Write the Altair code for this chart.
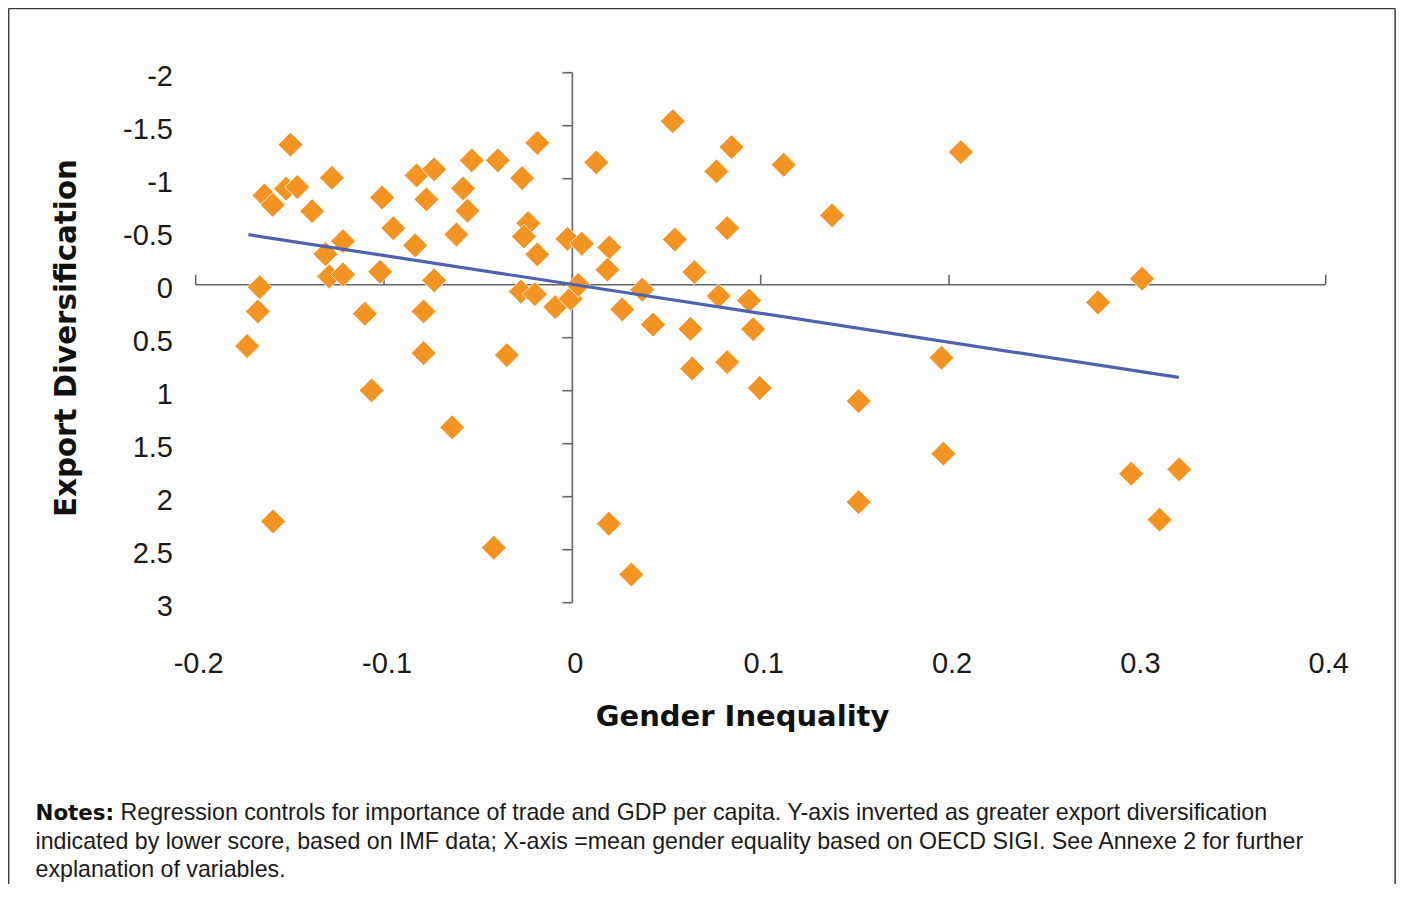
import altair as alt
import pandas as pd

# ---------------- data ----------------
gender_inequality = [
    -0.1497, -0.1635, -0.1591, -0.1520, -0.1461, -0.1277, -0.1382, -0.1311, -0.1218, -0.1291,
    -0.1218, -0.1660, -0.1670, -0.1727, -0.1589, -0.1010, -0.1021, -0.0951, -0.0835, -0.0827,
    -0.0775, -0.0734, -0.0734, -0.1102, -0.1066, -0.0790, -0.0790, -0.0638, -0.0616, -0.0580,
    -0.0557, -0.0534, -0.0396, -0.0267, -0.0186, -0.0234, -0.0257, -0.0186, -0.0348, -0.0417,
    -0.0273, -0.0199, -0.0091, -0.0009, 0.0031, -0.0026, 0.0050, 0.0127, 0.0196, 0.0186,
    0.0194, 0.0313, 0.0265, 0.0371, 0.0428, 0.0533, 0.0544, 0.0648, 0.0627, 0.0636,
    0.0765, 0.0845, 0.0822, 0.0777, 0.0822, 0.0938, 0.0960, 0.0995, 0.1122, 0.1379,
    0.1520, 0.1520, 0.1960, 0.1970, 0.2063, 0.2791, 0.3025, 0.2967, 0.3222, 0.3118,
]
export_diversification = [
    -1.321, -0.842, -0.753, -0.906, -0.921, -1.008, -0.694, -0.289, -0.411, -0.078,
    -0.097, 0.023, 0.252, 0.579, 2.233, -0.822, -0.121, -0.533, -0.371, -1.031,
    -0.805, -1.088, -0.041, 0.274, 0.997, 0.252, 0.645, 1.346, -0.473, -0.908,
    -0.698, -1.173, -1.173, -1.006, -1.338, -0.580, -0.454, -0.286, 0.664, 2.481,
    0.065, 0.089, 0.211, 0.132, 0.002, -0.432, -0.387, -1.154, -0.352, -0.142,
    2.255, 2.733, 0.233, 0.047, 0.376, -1.543, -0.427, -0.119, 0.417, 0.792,
    -1.069, -1.298, -0.534, 0.106, 0.730, 0.148, 0.419, 0.975, -1.132, -0.654,
    1.098, 2.051, 0.689, 1.594, -1.251, 0.167, -0.057, 1.783, 1.742, 2.217,
]

# regression line end points
line_x = [-0.172, 0.322]
line_y = [-0.472, 0.875]

x_ticks = [-0.2, -0.1, 0, 0.1, 0.2, 0.3, 0.4]
x_tick_labels = ["-0.2", "-0.1", "0", "0.1", "0.2", "0.3", "0.4"]
y_ticks = [-2, -1.5, -1, -0.5, 0, 0.5, 1, 1.5, 2, 2.5, 3]
y_tick_labels = ["-2", "-1.5", "-1", "-0.5", "0", "0.5", "1", "1.5", "2", "2.5", "3"]

x_title = "Gender Inequality"
y_title = "Export Diversification"
notes_label = "Notes:"
notes_lines = [
    "Regression controls for importance of trade and GDP per capita. Y-axis inverted as greater export diversification",
    "indicated by lower score, based on IMF data; X-axis =mean gender equality based on OECD SIGI. See Annexe 2 for further",
    "explanation of variables.",
]

# ---------------- styling ----------------
FONT = "Liberation Sans"
BOLD_FONT = "DejaVu Sans"
ORANGE = "#f39322"
BLUE = "#4f62ad"
AXIS_GREY = "#666666"
FRAME = "#3a3a3a"
TXT = "#1a1a1a"

W, H = 1130, 530
PAD_L, PAD_T = 187.7, 64.7
OX, OY = 8 + PAD_L, 8 + PAD_T          # page position of the plot origin
CANVAS_W, CANVAS_H = 1388, 876


def px(x):   # page x -> plot-group x
    return x - OX


def py(y):   # page y -> plot-group y
    return y - OY


xs = alt.Scale(domain=[-0.2, 0.4], nice=False, zero=False)
ys = alt.Scale(domain=[-2, 3], reverse=True, nice=False, zero=False)

pts = pd.DataFrame({"gi": gender_inequality, "ed": export_diversification})
reg = pd.DataFrame({"gi": line_x, "ed": line_y})
one = pd.DataFrame({"k": [0]})

xline = pd.DataFrame({"x0": [x_ticks[0]], "x1": [x_ticks[-1]], "y0": [0]})
yline = pd.DataFrame({"y0": [y_ticks[0]], "y1": [y_ticks[-1]], "x0": [0]})
xtk = pd.DataFrame({"xt": x_ticks, "y0": [0] * len(x_ticks), "lab": x_tick_labels})
ytk = pd.DataFrame({"yt": y_ticks, "x0": [0] * len(y_ticks), "lab": y_tick_labels})

# crossing axis lines and their ticks
axis_x_line = alt.Chart(xline).mark_rule(color=AXIS_GREY, strokeWidth=1.6).encode(
    x=alt.X("x0:Q", scale=xs, axis=None), x2="x1:Q",
    y=alt.Y("y0:Q", scale=ys, axis=None),
)
axis_y_line = alt.Chart(yline).mark_rule(color=AXIS_GREY, strokeWidth=1.6).encode(
    y=alt.Y("y0:Q", scale=ys, axis=None), y2="y1:Q",
    x=alt.X("x0:Q", scale=xs, axis=None),
)
x_tick_marks = alt.Chart(xtk).mark_rule(color=AXIS_GREY, strokeWidth=1.6, y2Offset=-10).encode(
    x=alt.X("xt:Q", scale=xs, axis=None),
    y=alt.Y("y0:Q", scale=ys, axis=None), y2="y0:Q",
)
y_tick_marks = alt.Chart(ytk).mark_rule(color=AXIS_GREY, strokeWidth=1.6, x2Offset=-10).encode(
    y=alt.Y("yt:Q", scale=ys, axis=None),
    x=alt.X("x0:Q", scale=xs, axis=None), x2="x0:Q",
)

# tick labels (placed along the outer edges, as in the reference)
x_labels = alt.Chart(xtk).mark_text(
    font=FONT, fontSize=29, align="center", baseline="alphabetic", dx=3, color=TXT
).encode(
    x=alt.X("xt:Q", scale=xs, axis=None), y=alt.value(py(672.5)), text="lab:N"
)
y_labels = alt.Chart(ytk).mark_text(
    font=FONT, fontSize=29, align="right", baseline="alphabetic", dy=13.5, color=TXT
).encode(
    y=alt.Y("yt:Q", scale=ys, axis=None), x=alt.value(px(173)), text="lab:N"
)

x_title_mark = alt.Chart(one).mark_text(
    font=BOLD_FONT, fontWeight="bold", fontSize=29, align="center", baseline="alphabetic", color="#111111"
).encode(x=alt.value(px(742.5)), y=alt.value(py(726)), text=alt.value(x_title))
y_title_mark = alt.Chart(one).mark_text(
    font=BOLD_FONT, fontWeight="bold", fontSize=29.3, align="center", baseline="alphabetic",
    angle=270, color="#111111"
).encode(x=alt.value(px(76)), y=alt.value(py(338)), text=alt.value(y_title))

points = alt.Chart(pts).mark_point(
    shape="diamond", filled=True, size=620, color=ORANGE, opacity=1,
    stroke="white", strokeWidth=0.8,
).encode(
    x=alt.X("gi:Q", scale=xs, axis=None),
    y=alt.Y("ed:Q", scale=ys, axis=None),
)

reg_line = alt.Chart(reg).mark_line(color=BLUE, strokeWidth=3.2).encode(
    x=alt.X("gi:Q", scale=xs, axis=None),
    y=alt.Y("ed:Q", scale=ys, axis=None),
)

# frame (left, top, right edges)
FR_L, FR_R, FR_T = px(8.6), px(8 + CANVAS_W - 0.9), py(8.6)
frame_left = alt.Chart(one).mark_rule(color=FRAME, strokeWidth=1.5).encode(
    x=alt.value(FR_L), y=alt.value(FR_T), y2=alt.value(py(900)))
frame_right = alt.Chart(one).mark_rule(color=FRAME, strokeWidth=1.5).encode(
    x=alt.value(FR_R), y=alt.value(FR_T), y2=alt.value(py(900)))
frame_top = alt.Chart(one).mark_rule(color=FRAME, strokeWidth=1.5).encode(
    x=alt.value(FR_L), x2=alt.value(FR_R), y=alt.value(FR_T))

NOTE_SIZE = 23.2
note_bold = alt.Chart(one).mark_text(
    align="left", baseline="alphabetic", font=BOLD_FONT, fontSize=21.4, fontWeight="bold", color="#111111"
).encode(x=alt.value(px(35.5)), y=alt.value(py(820)), text=alt.value(notes_label))
note_l1 = alt.Chart(one).mark_text(
    align="left", baseline="alphabetic", font=FONT, fontSize=NOTE_SIZE, color=TXT
).encode(x=alt.value(px(120.5)), y=alt.value(py(820)), text=alt.value(notes_lines[0]))
note_l2 = alt.Chart(one).mark_text(
    align="left", baseline="alphabetic", font=FONT, fontSize=NOTE_SIZE, color=TXT
).encode(x=alt.value(px(35.5)), y=alt.value(py(848.5)), text=alt.value(notes_lines[1]))
note_l3 = alt.Chart(one).mark_text(
    align="left", baseline="alphabetic", font=FONT, fontSize=NOTE_SIZE, color=TXT
).encode(x=alt.value(px(35.5)), y=alt.value(py(877)), text=alt.value(notes_lines[2]))

chart = alt.layer(
    frame_left, frame_right, frame_top,
    axis_x_line, axis_y_line, x_tick_marks, y_tick_marks,
    x_labels, y_labels, x_title_mark, y_title_mark,
    points, reg_line,
    note_bold, note_l1, note_l2, note_l3,
).properties(
    width=W, height=H,
    autosize=alt.AutoSizeParams(type="none"),
    padding={"left": PAD_L, "top": PAD_T,
             "right": CANVAS_W - PAD_L - W, "bottom": CANVAS_H - PAD_T - H},
    background="white",
).configure_view(strokeWidth=0)

chart.save("out.html", embed_options={"renderer": "svg", "actions": False})
